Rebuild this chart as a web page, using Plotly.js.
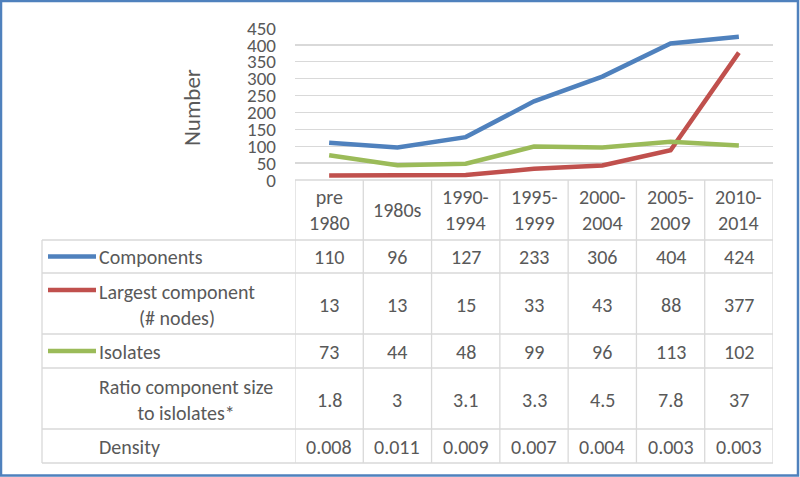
<!DOCTYPE html>
<html>
<head>
<meta charset="utf-8">
<script src="https://cdn.plot.ly/plotly-3.0.1.min.js"></script>
<style>html,body{margin:0;padding:0;background:#fff;}#chart{width:800px;height:477px;}</style>
</head>
<body>
<div id="chart"></div>
<script>
// ---- data ----
const categories = ["pre<br>1980", "1980s", "1990-<br>1994", "1995-<br>1999", "2000-<br>2004", "2005-<br>2009", "2010-<br>2014"];
const components = [110, 96, 127, 233, 306, 404, 424];
const largestComponent = [13, 13, 15, 33, 43, 88, 377];
const isolates = [73, 44, 48, 99, 96, 113, 102];
const ratioText = ["1.8", "3", "3.1", "3.3", "4.5", "7.8", "37"];
const densityText = ["0.008", "0.011", "0.009", "0.007", "0.004", "0.003", "0.003"];
const rowLabels = ["Components", "Largest component<br>(# nodes)", "Isolates", "Ratio component size<br>to islolates*", "Density"];
const yTicks = [0, 50, 100, 150, 200, 250, 300, 350, 400, 450];

// ---- layout helpers (pixel -> paper) ----
const W = 800, H = 477;
const px = x => x / W;
const py = y => (H - y) / H;
const FONT = "Carlito, Calibri, Lato, sans-serif";
const GREY = "#595959";
const GRID = "#D9D9D9";
const colors = ["#4F81BD", "#C0504D", "#9BBB59"];
const TS = 20;

const plotL = 295, plotR = 773, plotT = 28, plotB = 180;
const tableL = 42, tableTop = 240;
const rowBounds = [240, 273, 334, 368, 429, 463];
const idx = categories.map((_, i) => i);

const series = [
  {name: "Components", y: components},
  {name: "Largest component (# nodes)", y: largestComponent},
  {name: "Isolates", y: isolates}
];
const traces = series.map((s, k) => ({
  type: "scatter", mode: "lines", x: idx, y: s.y, name: s.name,
  line: {color: colors[k], width: 4.5}, hoverinfo: "skip"
}));

const shapes = [];
const annotations = [];
const line = (x0, y0, x1, y1, xref) => shapes.push({
  type: "line", xref: xref || "paper", yref: "paper",
  x0: xref === "x" ? x0 : px(x0), x1: xref === "x" ? x1 : px(x1),
  y0: py(y0), y1: py(y1), line: {color: GRID, width: 1.3}, layer: "below"
});

// table horizontal lines
line(plotL, plotB, plotR, plotB);
rowBounds.forEach(y => line(tableL, y, plotR, y));
line(tableL, tableTop, tableL, rowBounds[rowBounds.length - 1]);
for (let i = 0; i <= categories.length; i++) {
  line(i - 0.5, plotB, i - 0.5, rowBounds[rowBounds.length - 1], "x");
}

// header (category labels)
categories.forEach((c, i) => annotations.push({
  xref: "x", yref: "paper", x: i, y: py(210), text: c, showarrow: false,
  font: {family: FONT, size: TS, color: GREY}, align: "center", xanchor: "center", yanchor: "middle"
}));

// table rows
const rowValues = [
  components.map(String), largestComponent.map(String), isolates.map(String), ratioText, densityText
];
rowValues.forEach((vals, r) => {
  const yc = (rowBounds[r] + rowBounds[r + 1]) / 2;
  vals.forEach((v, i) => annotations.push({
    xref: "x", yref: "paper", x: i, y: py(yc + 1), text: v, showarrow: false,
    font: {family: FONT, size: TS, color: GREY}, xanchor: "center", yanchor: "middle"
  }));
  annotations.push({
    xref: "paper", yref: "paper", x: px(97), y: py(yc + 1), text: rowLabels[r], showarrow: false,
    font: {family: FONT, size: TS, color: GREY}, xanchor: "left", yanchor: "middle", align: "center"
  });
  if (r < 3) {
    const ly = r === 1 ? 290 : yc;
    shapes.push({type: "line", xref: "paper", yref: "paper", x0: px(48), x1: px(96), y0: py(ly), y1: py(ly),
      line: {color: colors[r], width: 4.5}});
  }
});

// y axis title
annotations.push({
  xref: "paper", yref: "paper", x: px(192), y: py(108), text: "Number", textangle: -90, showarrow: false,
  font: {family: FONT, size: 23, color: GREY}, xanchor: "center", yanchor: "middle"
});

// outer border
shapes.push({type: "rect", xref: "paper", yref: "paper", x0: px(1), x1: px(798), y0: py(475.5), y1: py(1),
  line: {color: "#4F81BD", width: 2.5}});

const layout = {
  width: W, height: H,
  margin: {l: 0, r: 0, t: 0, b: 0},
  paper_bgcolor: "#fff", plot_bgcolor: "#fff",
  showlegend: false,
  font: {family: FONT, color: GREY},
  xaxis: {
    domain: [px(plotL), px(plotR)], range: [-0.5, 6.5], showticklabels: false,
    showgrid: false, zeroline: false, showline: false, ticks: "", fixedrange: true
  },
  yaxis: {
    domain: [py(plotB), py(plotT)], range: [0, 450], tickvals: yTicks,
    ticktext: yTicks.map(String),
    showgrid: true, gridcolor: GRID, gridwidth: 1.3, zeroline: false, showline: false,
    tickfont: {family: FONT, size: 19, color: GREY}, ticks: "", ticklabelstandoff: 18,
    fixedrange: true
  },
  shapes: shapes,
  annotations: annotations
};

Plotly.newPlot("chart", traces, layout, {displayModeBar: false, staticPlot: true});
</script>
</body>
</html>
